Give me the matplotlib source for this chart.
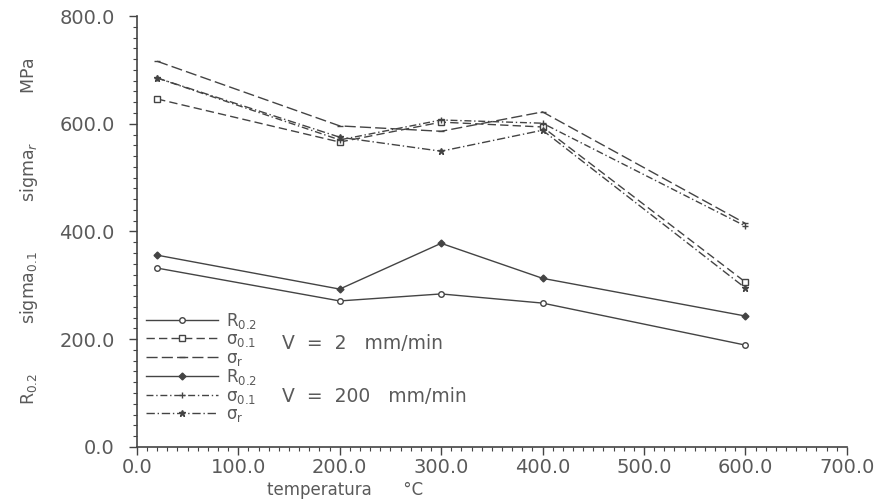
import matplotlib
matplotlib.use("Agg")
import matplotlib.pyplot as plt
from matplotlib.ticker import MultipleLocator, FormatStrFormatter

plt.rcParams['font.family'] = ['DejaVu Sans']
plt.rcParams['mathtext.fontset'] = 'dejavusans'

temps = [20, 200, 300, 400, 600]

r02_v2 = [332, 271, 284, 267, 189]
s01_v2 = [646, 566, 603, 594, 306]
sr_v2 = [716, 596, 586, 622, 415]

r02_v200 = [356, 293, 378, 313, 243]
s01_v200 = [685, 570, 607, 601, 410]
sr_v200 = [685, 575, 549, 588, 295]

legend_labels = [r'$\mathrm{R_{0.2}}$', r'$\mathrm{\sigma_{0.1}}$', r'$\mathrm{\sigma_r}$',
                 r'$\mathrm{R_{0.2}}$', r'$\mathrm{\sigma_{0.1}}$', r'$\mathrm{\sigma_r}$']
speed_labels = ['V  =  2   mm/min', 'V  =  200   mm/min']

fig = plt.figure(figsize=(8.83, 5.01), dpi=100)
ax = fig.add_axes([0.155, 0.108, 0.804, 0.860])

lc = '#444444'
tc = '#5a5a5a'
styles = [
    dict(ls='-', marker='o', ms=4, mfc='white'),
    dict(ls=(0, (6, 3)), marker='s', ms=4, mfc='white'),
    dict(ls=(0, (8, 3)), marker='_', ms=5),
    dict(ls='-', marker='D', ms=3.5, mfc=lc),
    dict(ls=(0, (5, 2, 1, 2)), marker='+', ms=5),
    dict(ls=(0, (6, 2, 1, 2)), marker='*', ms=5),
]
series = [r02_v2, s01_v2, sr_v2, r02_v200, s01_v200, sr_v200]
handles = []
for vals, st in zip(series, styles):
    h, = ax.plot(temps, vals, color=lc, lw=1.0, mec=lc, **st)
    handles.append(h)

ax.set_xlim(0, 700)
ax.set_ylim(0, 800)
ax.xaxis.set_major_locator(MultipleLocator(100))
ax.xaxis.set_minor_locator(MultipleLocator(10))
ax.yaxis.set_major_locator(MultipleLocator(200))
ax.yaxis.set_minor_locator(MultipleLocator(20))
ax.xaxis.set_major_formatter(FormatStrFormatter('%.1f'))
ax.yaxis.set_major_formatter(FormatStrFormatter('%.1f'))
for s in ['top', 'right']:
    ax.spines[s].set_visible(False)
for s in ['left', 'bottom']:
    ax.spines[s].set_color(lc)
    ax.spines[s].set_linewidth(1.2)
ax.tick_params(which='major', length=6, width=1, colors=lc, labelcolor=tc, labelsize=14)
ax.tick_params(which='minor', length=3, width=0.8, colors=lc)
ax.tick_params(axis='y', pad=10)
ax.tick_params(axis='x', pad=2)

ax.set_xlabel('temperatura      °C', color=tc, fontsize=12, labelpad=3, x=0.293)
ax.set_ylabel(r'R$_{0.2}$         sigma$_{0.1}$         sigma$_r$         MPa', color=tc,
              fontsize=12.5, labelpad=14)

leg = ax.legend(handles, legend_labels, loc='lower left', bbox_to_anchor=(0.008, 0.045),
                frameon=False, fontsize=12, handlelength=4.3, labelspacing=-0.03,
                handletextpad=0.5, borderaxespad=0.2, borderpad=0.0)
for t in leg.get_texts():
    t.set_color(tc)

ax.text(0.204, 0.241, speed_labels[0], transform=ax.transAxes, fontsize=13.5, color=tc, va='center')
ax.text(0.204, 0.118, speed_labels[1], transform=ax.transAxes, fontsize=13.5, color=tc, va='center')

fig.savefig('out.png', dpi=100, facecolor='white')
